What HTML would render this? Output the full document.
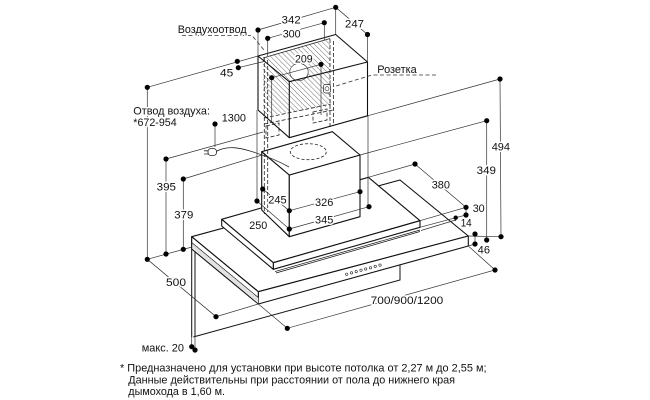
<!DOCTYPE html>
<html><head><meta charset="utf-8"><style>
html,body{margin:0;padding:0;background:#fff;}
svg{display:block;}
text{font-family:"Liberation Sans","DejaVu Sans",sans-serif;fill:#111;font-size:11px;}
.h{stroke:#fff;stroke-width:3;paint-order:stroke;stroke-linejoin:round;}
</style></head><body>
<svg width="650" height="400" viewBox="0 0 650 400" xmlns="http://www.w3.org/2000/svg">
<defs>
<pattern id="hp" patternUnits="userSpaceOnUse" width="3.6" height="3.6" patternTransform="rotate(-45)">
<line x1="0" y1="0" x2="0" y2="3.6" stroke="#333" stroke-width="0.7"/>
</pattern>
</defs>
<rect width="650" height="400" fill="#fff"/>

<!-- wall panel -->
<g stroke="#111" stroke-width="1" fill="none">
<path d="M191.7,237 V337 M195,240 V336"/>
<path d="M193.3,337 L400,280 V265"/>
</g>

<!-- Slab B (main canopy) -->
<g stroke="#111" stroke-width="1.1" stroke-linejoin="round">
<polygon points="191.7,236.7 400,180 468.3,236 258.3,291.7" fill="#fff"/>
<polygon points="258.3,291.7 468.3,236 468.3,246 258.3,304" fill="#fff"/>
<polygon points="191.7,236.7 258.3,291.7 258.3,304 191.7,249" fill="#fff"/>
</g>
<polygon points="192.5,243 258.3,297.5 258.3,303.5 193,248.5" fill="#e2e2e2"/>
<path d="M191.7,242.5 L258.3,297.5" stroke="#111" stroke-width="0.6" fill="none"/>
<!-- buttons -->
<g fill="#fff" stroke="#222" stroke-width="0.6">
<circle cx="346.7" cy="274.2" r="1.2"/><circle cx="351.5" cy="272.9" r="1.2"/><circle cx="356.2" cy="271.6" r="1.2"/><circle cx="361" cy="270.3" r="1.2"/><circle cx="365.7" cy="269" r="1.2"/><circle cx="370.5" cy="267.7" r="1.2"/><circle cx="375.2" cy="266.4" r="1.2"/><circle cx="380" cy="265.1" r="1.2"/>
</g>

<!-- Slab A -->
<g stroke="#111" stroke-width="1.1" stroke-linejoin="round">
<polygon points="221.7,219.3 368.4,177.3 420,220.7 273.3,262.7" fill="#fff"/>
<polygon points="273.3,262.7 420,220.7 420,227.3 273.3,269.3" fill="#fff"/>
<polygon points="221.7,219.3 273.3,262.7 273.3,269.3 221.7,226" fill="#fff"/>
</g>
<path d="M275,271.6 L420,230 M276,273 L420,231.5" stroke="#111" stroke-width="0.7" fill="none"/>

<!-- hatch panel (wall bracket) -->
<polygon points="263,58 330,38.5 331,106 263,116" fill="url(#hp)"/>
<path d="M263,58 L330,38.5" stroke="#222" stroke-width="0.7" fill="none"/>
<ellipse cx="299" cy="72" rx="9.2" ry="8.6" fill="#fff" stroke="#222" stroke-width="0.6"/>

<!-- Lower chimney -->
<g stroke="#111" stroke-width="1.1" stroke-linejoin="round">
<polygon points="261.7,151.7 289.3,175 289.3,236.7 261.7,210" fill="#fff"/>
<polygon points="289.3,175 360,155 360,216.7 289.3,236.7" fill="#fff"/>
<polygon points="261.7,151.7 332.4,131.7 360,155 289.3,175" fill="#fff"/>
</g>
<ellipse cx="308.3" cy="151.7" rx="18" ry="8" fill="none" stroke="#222" stroke-width="0.8" stroke-dasharray="3,2"/>

<!-- dashed inner bracket lines -->
<g stroke="#222" stroke-width="0.8" fill="none" stroke-dasharray="4,2">
<path d="M264.3,57 V214 M267.7,60 V212"/>
<path d="M330,39 V128 M333.5,41 V126"/>
<path d="M264,118 L331,104 M264,124 L333,110"/>
<path d="M266,126 L279,123 V135 L266,138 Z"/>
<path d="M313,112 L327,109 V120 L313,123 Z"/>
</g>

<!-- Upper chimney (wireframe) -->
<g stroke="#111" stroke-width="1.1" fill="none" stroke-linejoin="round">
<path d="M258,56 L335.7,34.5 L367.5,62 L289.3,81.7 Z"/>
<path d="M289.3,81.7 V137.7 M258,56 V110 M367.5,62 V116"/>
<path d="M258,110 L289.3,137.7 L368,115.7"/>
</g>
<!-- socket -->
<rect x="323.5" y="84.5" width="7" height="8.5" rx="2" fill="#fff" stroke="#222" stroke-width="0.7"/>
<circle cx="327" cy="88.7" r="2" fill="none" stroke="#222" stroke-width="0.6"/>

<!-- plug and cable -->
<path d="M216,151.5 C228,145 240,148 250,151 S275,159 289,167" stroke="#222" stroke-width="0.8" fill="none"/>
<rect x="208" y="148.5" width="8.5" height="7" rx="3" fill="#fff" stroke="#222" stroke-width="0.8"/>
<path d="M204,150.8 H208 M204,154 H208" stroke="#222" stroke-width="0.8"/>

<!-- dimension lines -->
<g stroke="#333" stroke-width="0.7" fill="none">
<path d="M258,30 L335.7,7.3"/>
<path d="M267.7,38.3 L324.3,22.7"/>
<path d="M335.7,7.3 L367.5,34.5"/>
<path d="M258,30 V56 M335.7,7.3 V34.5 M367.5,34.5 V62 M267.7,38.3 V56 M324.3,22.7 V40"/>
<path d="M271.7,77.7 L321,64.3 M271.7,77.7 V123 M321,64.3 V115"/>
<path d="M147.3,87.3 L258,56 M238.3,67.7 L264,61.5"/>
<path d="M147.3,87.3 V259.3"/>
<path d="M215,124 V147"/>
<path d="M166,159 L263,132 M166,159 V254"/>
<path d="M183.3,179 L262,155 M183.3,179 V249.3"/>
<path d="M147.3,259.3 L192,247"/>
<path d="M147.3,259.3 L216,316.7 L258.3,304 L287.3,328.3 L495,270 L468.3,246"/>
<path d="M262.7,189 L289.3,210.7 M257,201 L289.3,229"/>
<path d="M289.3,210.7 L360,191.7 M289.3,229 L369,206.7"/>
<path d="M257,110 V201 M368,116 V207"/>
<path d="M368.4,177.3 L415,164 L466,207.3 L420,220.7 M466,207.3 V215 L420,227.3"/>
<path d="M421,230.5 L455.7,220 M455.7,217.7 V221"/>
<path d="M360,155 L486.7,120.7 V240"/>
<path d="M368,115.7 L500,79 L501,236.7"/>
<path d="M468.3,236 L501,236.7 M468.3,246 L475,244 M475,234 V244"/>
<path d="M191.7,337 V346.7 M195,336 V350"/>
</g>
<g stroke="#333" stroke-width="0.8" fill="none" stroke-dasharray="4,2.5">
<path d="M436,75 L372,75 L336,86"/>
<path d="M182,35.5 L252,35.5 L264,50"/>
</g>

<!-- dots -->
<g fill="#000">
<circle cx="258" cy="30" r="2.6"/><circle cx="335.7" cy="7.3" r="2.6"/><circle cx="367.5" cy="34.5" r="2.6"/>
<circle cx="267.7" cy="38.3" r="2.6"/><circle cx="324.3" cy="22.7" r="2.6"/>
<circle cx="271.7" cy="77.7" r="2.6"/><circle cx="321" cy="64.3" r="2.6"/>
<circle cx="237.3" cy="61.3" r="2.6"/><circle cx="238.3" cy="67.7" r="2.6"/>
<circle cx="147.3" cy="87.3" r="2.6"/><circle cx="215" cy="124" r="2.6"/>
<circle cx="166" cy="159" r="2.6"/><circle cx="183.3" cy="179" r="2.6"/>
<circle cx="262.7" cy="189" r="2.6"/><circle cx="257" cy="201" r="2.6"/>
<circle cx="289.3" cy="210.7" r="2.6"/><circle cx="360" cy="191.7" r="2.6"/>
<circle cx="289.3" cy="229" r="2.6"/><circle cx="369" cy="206.7" r="2.6"/>
<circle cx="415" cy="164" r="2.6"/><circle cx="466" cy="207.3" r="2.6"/>
<circle cx="466" cy="215" r="2.6"/><circle cx="455.7" cy="217.7" r="2.2"/>
<circle cx="486.7" cy="120.7" r="2.6"/><circle cx="486.7" cy="240" r="2.6"/>
<circle cx="500" cy="79" r="2.6"/><circle cx="501" cy="236.7" r="2.6"/>
<circle cx="475" cy="234" r="2.6"/><circle cx="475" cy="244" r="2.6"/>
<circle cx="147.3" cy="259.3" r="2.6"/><circle cx="166" cy="254" r="2.6"/><circle cx="183.3" cy="249.3" r="2.6"/>
<circle cx="216" cy="316.7" r="2.6"/><circle cx="287.3" cy="328.3" r="2.6"/><circle cx="495" cy="270" r="2.6"/>
<circle cx="191.7" cy="346.7" r="2.6"/><circle cx="195" cy="350" r="2.6"/>
</g>

<!-- labels -->
<text class="h" x="177.7" y="33" textLength="69" lengthAdjust="spacingAndGlyphs">Воздухоотвод</text>
<text class="h" x="281.7" y="23.3" textLength="19" lengthAdjust="spacingAndGlyphs">342</text>
<text class="h" x="282.7" y="37.3" textLength="18" lengthAdjust="spacingAndGlyphs">300</text>
<text class="h" x="345" y="27.3" textLength="19" lengthAdjust="spacingAndGlyphs">247</text>
<text class="h" x="295" y="62.3" textLength="17.7" lengthAdjust="spacingAndGlyphs">209</text>
<text class="h" x="220" y="76.7" textLength="13.3" lengthAdjust="spacingAndGlyphs">45</text>
<text class="h" x="377.3" y="73" textLength="39.4" lengthAdjust="spacingAndGlyphs">Розетка</text>
<text class="h" x="133.3" y="114.3" textLength="76.7" lengthAdjust="spacingAndGlyphs">Отвод воздуха:</text>
<text class="h" x="133.3" y="126" textLength="43.4" lengthAdjust="spacingAndGlyphs">*672-954</text>
<text class="h" x="221.7" y="121.7" textLength="24.3" lengthAdjust="spacingAndGlyphs">1300</text>
<text class="h" x="156.7" y="190.7" textLength="19.3" lengthAdjust="spacingAndGlyphs">395</text>
<text class="h" x="174.3" y="218.7" textLength="19" lengthAdjust="spacingAndGlyphs">379</text>
<text class="h" x="268.3" y="203.3" textLength="18.4" lengthAdjust="spacingAndGlyphs">245</text>
<text class="h" x="315" y="206" textLength="18.3" lengthAdjust="spacingAndGlyphs">326</text>
<text class="h" x="315" y="223.3" textLength="18.3" lengthAdjust="spacingAndGlyphs">345</text>
<text class="h" x="249.3" y="229" textLength="18" lengthAdjust="spacingAndGlyphs">250</text>
<text class="h" x="431.7" y="188.7" textLength="18.3" lengthAdjust="spacingAndGlyphs">380</text>
<text class="h" x="476.7" y="174" textLength="19.3" lengthAdjust="spacingAndGlyphs">349</text>
<text class="h" x="491.7" y="150.7" textLength="18.3" lengthAdjust="spacingAndGlyphs">494</text>
<text class="h" x="472.7" y="212" textLength="12" lengthAdjust="spacingAndGlyphs">30</text>
<text class="h" x="460.7" y="226.7" textLength="11" lengthAdjust="spacingAndGlyphs">14</text>
<text class="h" x="477.7" y="253.3" textLength="12.3" lengthAdjust="spacingAndGlyphs">46</text>
<text class="h" x="166" y="286" textLength="20" lengthAdjust="spacingAndGlyphs">500</text>
<text class="h" x="370.7" y="304" textLength="72.6" lengthAdjust="spacingAndGlyphs">700/900/1200</text>
<text x="141.7" y="351.7" textLength="42.3" lengthAdjust="spacingAndGlyphs">макс. 20</text>

<text x="120" y="371.6" textLength="366.5" lengthAdjust="spacingAndGlyphs">* Предназначено для установки при высоте потолка от 2,27 м до 2,55 м;</text>
<text x="128.3" y="383.3" textLength="326.7" lengthAdjust="spacingAndGlyphs">Данные действительны при расстоянии от пола до нижнего края</text>
<text x="128.3" y="395" textLength="96.7" lengthAdjust="spacingAndGlyphs">дымохода в 1,60 м.</text>
</svg>
</body></html>
